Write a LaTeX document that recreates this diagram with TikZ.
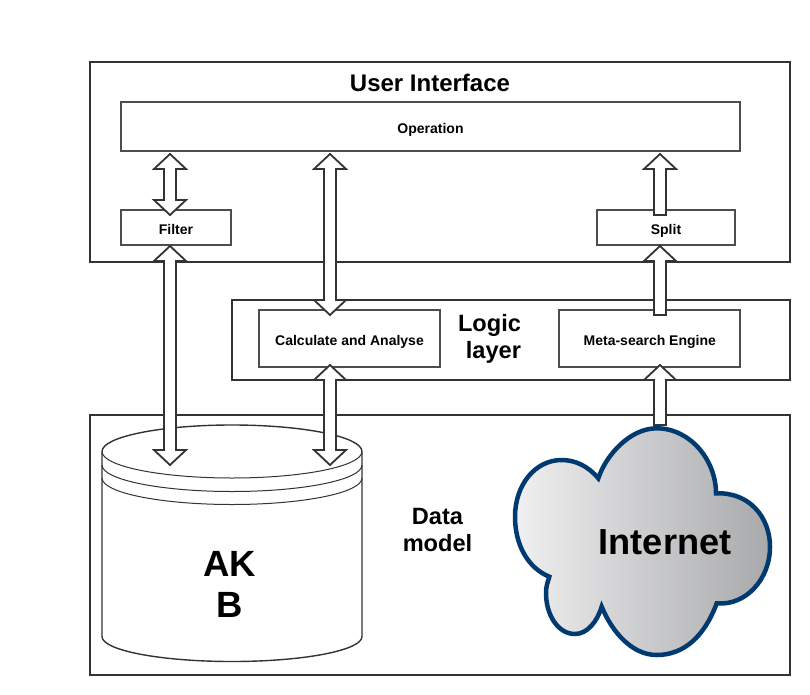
\documentclass[tikz,border=0pt]{standalone}
\usepackage{fontspec}
\setmainfont{Liberation Sans}
\usetikzlibrary{calc, positioning}

\definecolor{linegray}{HTML}{333333}
\definecolor{boxgray}{HTML}{4D4D4D}
\definecolor{cloudblue}{HTML}{003A70}
\definecolor{cloudlight}{HTML}{F0F0F1}
\definecolor{clouddark}{HTML}{A8A9AB}

\tikzset{
  layerbox/.style={draw=linegray, line width=2pt, anchor=north west, inner sep=0pt},
  innerbox/.style={draw=boxgray, line width=1.8pt, fill=white, font=\bfseries\fontsize{14}{16}\selectfont, inner sep=0pt, text height=15.6pt, text depth=2pt},
  bigtext/.style={font=\bfseries\fontsize{23.6}{27}\selectfont, align=center},
  twoway/.style={draw=linegray, line width=1.8pt, fill=white, to path={
    let \p1=(\tikztostart), \p2=(\tikztotarget) in
    -- (\x1+16pt,\y1-15pt) -- (\x1+6pt,\y1-15pt) -- (\x1+6pt,\y2+15pt) -- (\x1+16pt,\y2+15pt)
    -- (\x2,\y2) -- (\x1-16pt,\y2+15pt) -- (\x1-6pt,\y2+15pt) -- (\x1-6pt,\y1-15pt) -- (\x1-16pt,\y1-15pt) -- cycle}},
  oneway/.style={draw=linegray, line width=1.8pt, fill=white, to path={
    let \p1=(\tikztostart), \p2=(\tikztotarget) in
    -- (\x1+6pt,\y1) -- (\x1+6pt,\y2-15pt) -- (\x1+16pt,\y2-15pt) -- (\x2,\y2) -- (\x1-16pt,\y2-15pt)
    -- (\x1-6pt,\y2-15pt) -- (\x1-6pt,\y1) -- cycle}}
}

\begin{document}
\begin{tikzpicture}[x=1pt,y=-1pt]
        \useasboundingbox (0,0) rectangle (810,695);

        \node[layerbox, minimum width=700pt, minimum height=199.5pt] (ui) at (89,61) {};
        \node[layerbox, minimum width=558pt, minimum height=80pt] (logic) at (231,299) {};
        \node[layerbox, minimum width=700pt, minimum height=260pt] (data) at (89,414) {};

        \node[innerbox, minimum width=619pt, minimum height=49pt] (operation) at (430.5,126.5) {Operation};
        \node[innerbox, minimum width=110pt, minimum height=35pt] (filter) at (176,227.5) {Filter};
        \node[innerbox, minimum width=138pt, minimum height=35pt] (split) at (666,227.5) {Split};
        \node[innerbox, minimum width=181pt, minimum height=57pt] (calc) at (349.5,338.5) {Calculate and Analyse};
        \node[innerbox, minimum width=181pt, minimum height=57pt, right=117.5pt of calc] (meta) {Meta-search Engine};

        \node[bigtext, font=\bfseries\fontsize{24}{27}\selectfont] (uititle) at (430,83) {User Interface};
        \node[bigtext, align=right] (logictitle) at (489.5,338.5) {Logic\\layer};
        \node[bigtext] (datatitle) at (437.5,530) {Data\\model};

        % database
        \draw[linegray, line width=1.4pt, fill=white] (102,451.5) -- (102,636.5)
          arc[start angle=180, end angle=360, x radius=130, y radius=-25] -- (362,451.5)
          arc[start angle=0, end angle=180, x radius=130, y radius=-26.5];
        \draw[linegray, line width=1pt] (102,451.5) arc[start angle=180, end angle=360, x radius=130, y radius=-26.5];
        \draw[linegray, line width=1pt] (102,465) arc[start angle=180, end angle=360, x radius=130, y radius=-26.5];
        \draw[linegray, line width=1pt] (102,478) arc[start angle=180, end angle=360, x radius=130, y radius=-26.5];
        \node[font=\bfseries\fontsize{36.5}{41}\selectfont, align=center] (akb) at (229.5,584.5) {AK\\B};

        % cloud
        \path[draw=cloudblue, line width=4.5pt, left color=cloudlight, right color=clouddark]
          (549.3,576.7) .. controls (528,568) and (515,545) .. (515,516.7)
          .. controls (515,485) and (535,460) .. (561.7,460)
          .. controls (575,460) and (588,466) .. (598.3,478.3)
          .. controls (606,455) and (630,428.3) .. (656.7,428.3)
          .. controls (690,428.3) and (716,460) .. (716,493.3)
          .. controls (750,492) and (770,518) .. (770,546.7)
          .. controls (770,580) and (745,606) .. (716.7,603.3)
          .. controls (705,635) and (685,655) .. (656.7,655)
          .. controls (632,655) and (612,632) .. (601.7,606.7)
          .. controls (597,622) and (587,634) .. (575,634)
          .. controls (558,634) and (546,615) .. (546,593)
          .. controls (546,585) and (548,582) .. (549.3,576.7) -- cycle;
        \node[font=\bfseries\fontsize{36.2}{42}\selectfont] (internet) at (665,542) {Internet};

        % arrow ends
        \coordinate (optop1) at (170,154);
        \coordinate (filtertop) at (170,215);
        \coordinate (filterbot) at (170,246);
        \coordinate (dbtop1) at (170,465);
        \coordinate (optop2) at (330,154);
        \coordinate (calctop) at (330,315);
        \coordinate (calcbot) at (330,365);
        \coordinate (dbtop2) at (330,465);
        \coordinate (optop3) at (660,154);
        \coordinate (splittop) at (660,215);
        \coordinate (splitbot) at (660,246);
        \coordinate (metatop) at (660,315);
        \coordinate (metabot) at (660,365);
        \coordinate (cloudtop) at (660,425);

        \draw[twoway] (optop1) to (filtertop);
        \draw[twoway] (filterbot) to (dbtop1);
        \draw[twoway] (optop2) to (calctop);
        \draw[twoway] (calcbot) to (dbtop2);
        \draw[oneway] (splittop) to (optop3);
        \draw[oneway] (metatop) to (splitbot);
        \draw[oneway] (cloudtop) to (metabot);
      \end{tikzpicture}
\end{document}
